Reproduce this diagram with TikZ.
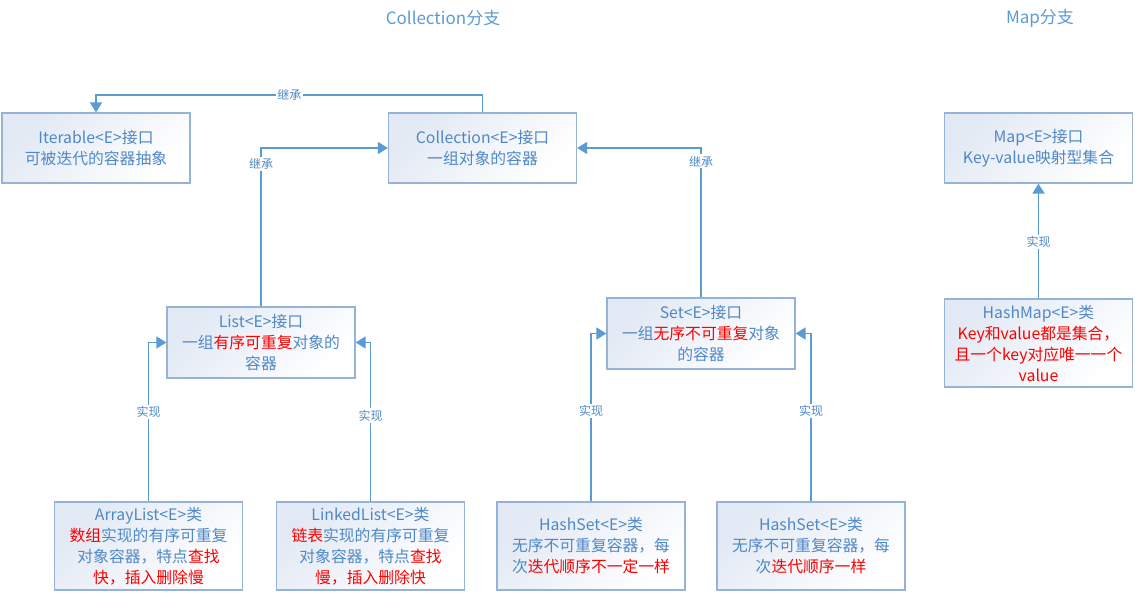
\documentclass[tikz,border=0pt]{standalone}
\usepackage{fontspec}
\setmainfont{Noto Sans CJK SC}
\usetikzlibrary{arrows.meta}
\definecolor{txtblue}{HTML}{4F88C6}
\definecolor{ttlblue}{HTML}{5B9BD5}
\definecolor{boxline}{HTML}{95B3D7}
\definecolor{boxfill}{HTML}{E2E9F4}
\definecolor{arrblue}{HTML}{5B9BD5}
\definecolor{hotred}{HTML}{FF0000}
\newcommand{\hl}[1]{\textcolor{hotred}{#1}}
\tikzset{
  box/.style={draw=boxline, line width=1.3pt, top color=boxfill, bottom color=white, shading angle=45,
    minimum width=188pt, inner sep=0pt, align=center, text=txtblue,
    font=\fontsize{15.8}{21}\selectfont},
  arr/.style={draw=arrblue, line width=1.8pt, -{Triangle[length=10pt,width=12pt]}},
  lbl/.style={fill=white, inner sep=1.5pt, text=txtblue, font=\fontsize{12}{13}\selectfont},
  ttl/.style={text=ttlblue, font=\fontsize{17}{19}\selectfont}
}
\begin{document}
\begin{tikzpicture}[x=1pt,y=-1pt]
\useasboundingbox (0,0) rectangle (1135,594);
\node[ttl] (t1) at (443,18) {Collection分支};
\node[ttl] (t2) at (1040,18) {Map分支};

\node[box, minimum height=70pt] (iter) at (96,148) {Iterable<E>接口\\可被迭代的容器抽象};
\node[box, minimum height=70pt] (coll) at (482.5,148) {Collection<E>接口\\一组对象的容器};
\node[box, minimum height=71pt] (list) at (261,342.5) {List<E>接口\\一组\hl{有序可重复}对象的\\容器};
\node[box, minimum height=71pt] (set) at (701,333.5) {Set<E>接口\\一组\hl{无序不可重复}对象\\的容器};
\node[box, minimum height=88pt] (al) at (148.5,546) {ArrayList<E>类\\\hl{数组}实现的有序可重复\\对象容器，特点\hl{查找}\\\hl{快，插入删除慢}};
\node[box, minimum height=88pt] (ll) at (370.5,546) {LinkedList<E>类\\\hl{链表}实现的有序可重复\\对象容器，特点\hl{查找}\\\hl{慢，插入删除快}};
\node[box, minimum height=88pt] (hs1) at (591,546) {HashSet<E>类\\无序不可重复容器，每\\次\hl{迭代顺序不一定一样}};
\node[box, minimum height=88pt] (hs2) at (811,546) {HashSet<E>类\\无序不可重复容器，每\\次\hl{迭代顺序一样}};
\node[box, minimum height=70pt] (map) at (1038.5,148) {Map<E>接口\\Key-value映射型集合};
\node[box, minimum height=88pt] (hm) at (1038.5,343) {HashMap<E>类\\\hl{Key和value都是集合，}\\\hl{且一个key对应唯一一个}\\\hl{value}};

\draw[arr] (coll.north) -- ++(0,-17) -| node[lbl, pos=0.25] {继承} (iter.north);
\draw[arr] (list.north) |- node[lbl, pos=0.45] {继承} (coll.west);
\draw[arr] (set.north) |- node[lbl, pos=0.455] {继承} (coll.east);
\draw[arr] (al.north) |- node[lbl, pos=0.28] {实现} (list.west);
\draw[arr] (ll.north) |- node[lbl, pos=0.27] {实现} (list.east);
\draw[arr] (hs1.north) |- node[lbl, pos=0.27] {实现} (set.west);
\draw[arr] (hs2.north) |- node[lbl, pos=0.27] {实现} (set.east);
\draw[arr] (hm.north) -- node[lbl, pos=0.49] {实现} (map.south);
\end{tikzpicture}
\end{document}
